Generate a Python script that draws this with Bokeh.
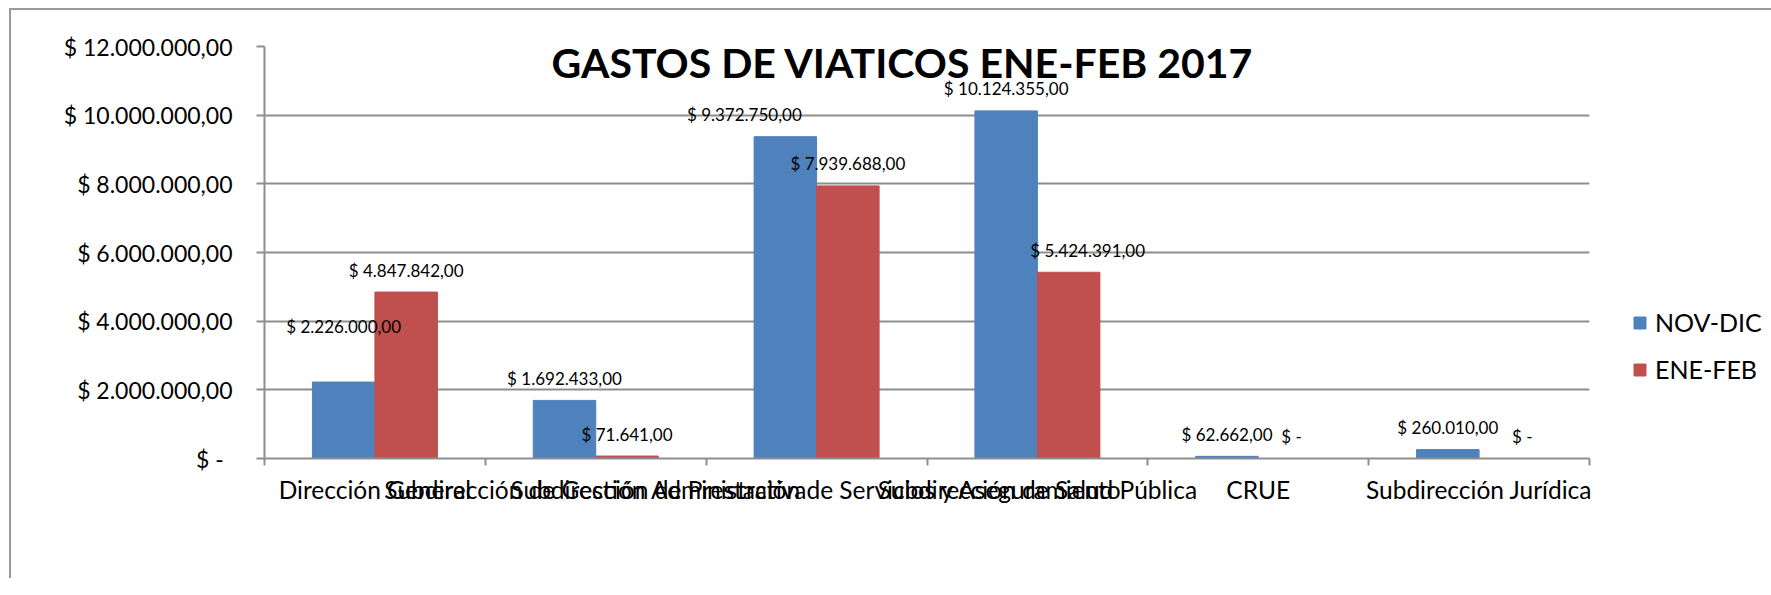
from bokeh.plotting import figure
from bokeh.models import (Range1d, LinearAxis, FixedTicker,
                          CustomJSTickFormatter, Legend, LegendItem, ColumnDataSource, Label)
from bokeh.transform import dodge
from bokeh.core.properties import value
from bokeh.embed import file_html
from bokeh.resources import INLINE

# ---------------- data ----------------
categories = [
    "Dirección General",
    "Subdirección de Gestión Administrativa",
    "Subdirección de Prestación de Servicios y Aseguramiento",
    "Subdirección de Salud Pública",
    "CRUE",
    "Subdirección Jurídica",
]
series_names = ["NOV-DIC", "ENE-FEB"]
nov_dic = [2226000, 1692433, 9372750, 10124355, 62662, 260010]
ene_feb = [4847842, 71641, 7939688, 5424391, 0, 0]
y_ticks = [0, 2000000, 4000000, 6000000, 8000000, 10000000, 12000000]
title_text = "GASTOS DE VIATICOS ENE-FEB 2017"

# manual label nudges (pixels), as in the original sheet
nov_label_dx = [0, 0, -41, 0, 0, 0]
nov_label_dy = [-34, 0, 0, 0, 0, 0]
ene_label_dx = [0, 0, 0, 19, 2, 12]
ene_label_dy = [0, 0, 0, 0, 0, 0]

# ---------------- style ----------------
FONT = "Lato"
BLUE = "#4F81BD"
RED = "#C0504D"
GRID = "#8E8E8E"
BAR_W = 0.283
LABEL_GAP = -22


def money(v):
    if v == 0:
        return "$ -"
    return "$ " + f"{int(v):,}".replace(",", ".") + ",00"


n = len(categories)
centers = [i + 0.5 for i in range(n)]   # category slot centres on the category axis

src = ColumnDataSource(dict(
    xc=centers,
    cat=categories,
    nov=nov_dic,
    ene=ene_feb,
    nov_txt=[money(v) for v in nov_dic],
    ene_txt=[money(v) for v in ene_feb],
    nov_dx=nov_label_dx,
    nov_dy=[d + LABEL_GAP for d in nov_label_dy],
    ene_dx=ene_label_dx,
    ene_dy=[d + LABEL_GAP for d in ene_label_dy],
))

p = figure(
    x_range=Range1d(0, n),
    y_range=Range1d(0, max(y_ticks)),
    frame_width=1325, frame_height=412,
    min_border_left=253, min_border_right=170,
    min_border_top=36, min_border_bottom=120,
    x_axis_location=None,
    output_backend="svg", toolbar_location=None,
    background_fill_color="white", border_fill_color="white",
)
p.outline_line_color = None
p.styles = {"border-top": "2px solid #9A9A9A", "border-left": "2px solid #9A9A9A",
            "margin-left": "9px", "margin-top": "8px"}

# y axis
yax = p.yaxis[0]
yax.ticker = FixedTicker(ticks=y_ticks)
yax.formatter = CustomJSTickFormatter(code=r"""
if (tick == 0) { return "$ -\u00a0\u2009"; }
const s = Math.round(tick).toString().replace(/\B(?=(\d{3})+(?!\d))/g, ".");
return "$ " + s + ",00";
""")
yax.major_label_text_font = FONT
yax.major_label_text_font_size = "23px"
yax.major_label_text_color = "black"
yax.major_tick_out = 8
yax.major_tick_in = 0
yax.minor_tick_line_color = None
yax.major_tick_line_color = GRID
yax.major_tick_line_width = 2
yax.axis_line_color = GRID
yax.axis_line_width = 2
yax.major_label_standoff = 24

p.ygrid.ticker = FixedTicker(ticks=y_ticks)
p.ygrid.grid_line_color = GRID
p.ygrid.grid_line_width = 2
for g in p.xgrid:
    g.visible = False

# x axes: tick marks at category boundaries, then category labels at slot centres
tick_axis = LinearAxis(
    ticker=FixedTicker(ticks=list(range(n + 1))),
    formatter=CustomJSTickFormatter(code="return '';"),
    major_tick_out=7, major_tick_in=0,
    major_tick_line_color=GRID, major_tick_line_width=2,
    minor_tick_line_color=None,
    axis_line_color=GRID, axis_line_width=2,
    major_label_standoff=0, major_label_text_font_size="1px",
)
p.add_layout(tick_axis, "below")
cat_axis = LinearAxis(
    ticker=FixedTicker(ticks=centers),
    formatter=CustomJSTickFormatter(args=dict(cats=categories),
                                    code="return cats[Math.floor(tick)];"),
    major_tick_line_color=None, minor_tick_line_color=None, axis_line_color=None,
    major_label_text_font=FONT, major_label_text_font_size="24.5px",
    major_label_text_color="black", major_label_standoff=3,
)
p.add_layout(cat_axis, "below")

# bars
r_nov = p.vbar(x=dodge("xc", -BAR_W / 2), top="nov", width=BAR_W,
               source=src, fill_color=BLUE, line_color=BLUE)
r_ene = p.vbar(x=dodge("xc", BAR_W / 2), top="ene", width=BAR_W,
               source=src, fill_color=RED, line_color=RED)

# data labels
p.text(x=dodge("xc", -BAR_W / 2), y="nov", text="nov_txt",
       x_offset="nov_dx", y_offset="nov_dy", source=src,
       text_font=value(FONT), text_font_size="17px", text_color="black",
       text_align="center", text_baseline="middle")
p.text(x=dodge("xc", BAR_W / 2), y="ene", text="ene_txt",
       x_offset="ene_dx", y_offset="ene_dy", source=src,
       text_font=value(FONT), text_font_size="17px", text_color="black",
       text_align="center", text_baseline="middle")

# title drawn inside the plot area like the original
p.add_layout(Label(x=2.89, y=11530000, text=title_text, text_font=FONT,
                   text_font_size="41px", text_font_style="bold", text_color="black",
                   text_align="center", text_baseline="middle"))

# legend in the right-hand panel
legend = Legend(
    items=[LegendItem(label=series_names[0], renderers=[r_nov]),
           LegendItem(label=series_names[1], renderers=[r_ene])],
    location=(43, 74), orientation="vertical",
    glyph_width=15, glyph_height=15, label_height=30, spacing=17,
    label_standoff=8, label_text_font=FONT, label_text_font_size="25px",
    label_text_color="black", padding=0, margin=0,
    border_line_color=None, background_fill_alpha=0,
)
p.add_layout(legend, "right")

open("out.html", "w").write(file_html(p, INLINE))
